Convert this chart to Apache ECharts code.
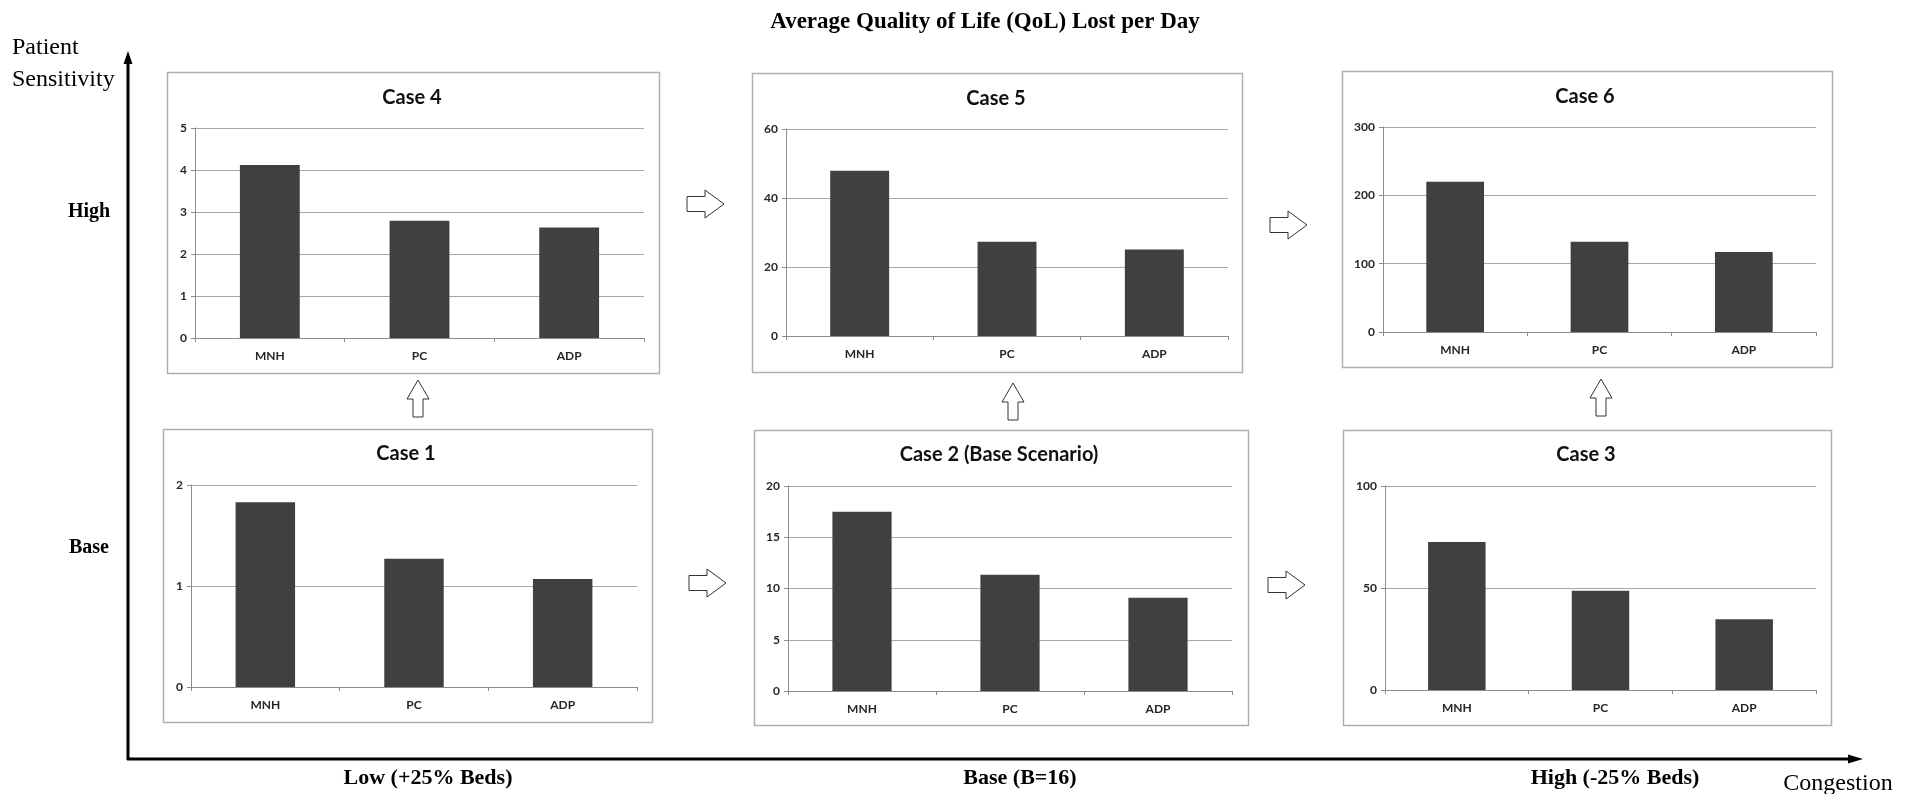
<!DOCTYPE html>
<html>
<head>
<meta charset="utf-8">
<title>Average Quality of Life (QoL) Lost per Day</title>
<script src="https://cdn.jsdelivr.net/npm/echarts@6/dist/echarts.min.js"></script>
<style>
  html, body { margin: 0; padding: 0; background: #ffffff; }
  #chart { width: 1913px; height: 794px; }
</style>
</head>
<body>
<div id="chart"></div>
<script>
// ---- data ----
const categories = ['MNH', 'PC', 'ADP'];

const caseNames = ['Case 1', 'Case 2 (Base Scenario)', 'Case 3', 'Case 4', 'Case 5', 'Case 6'];

const case1Values = [1.83, 1.27, 1.07];
const case2Values = [17.5, 11.35, 9.1];
const case3Values = [72.6, 48.7, 34.7];
const case4Values = [4.12, 2.79, 2.63];
const case5Values = [47.9, 27.3, 25.1];
const case6Values = [220, 132, 117];

const axisMax = [2, 20, 100, 5, 60, 300];
const axisStep = [1, 5, 50, 1, 20, 100];

const mainTitle = 'Average Quality of Life (QoL) Lost per Day';
const sensitivityLevels = ['High', 'Base'];
const congestionLevels = ['Low (+25% Beds)', 'Base (B=16)', 'High (-25% Beds)'];

// ---- layout of the six panels (frame box, plot area, title position) ----
const panels = [
  { box: [163, 429, 652, 722], plot: [191, 485, 446, 202], title: [406, 454] },   // Case 1
  { box: [754, 430, 1248, 725], plot: [788, 486, 444, 205], title: [999, 455] },  // Case 2
  { box: [1343, 430, 1831, 725], plot: [1385, 486, 431, 204], title: [1586, 455] }, // Case 3
  { box: [167, 72, 659, 373], plot: [195, 128, 449, 210], title: [412, 98] },     // Case 4
  { box: [752, 73, 1242, 372], plot: [786, 129, 442, 207], title: [996, 99] },    // Case 5
  { box: [1342, 71, 1832, 367], plot: [1383, 127, 433, 205], title: [1585, 97] }  // Case 6
];

const seriesValues = [case1Values, case2Values, case3Values, case4Values, case5Values, case6Values];

const SANS = 'Lato, "Open Sans", sans-serif';
const SERIF = '"Liberation Serif", "DejaVu Serif", serif';
const GRID_GRAY = '#a6a6a6';
const AXIS_GRAY = '#8c8c8c';

const grids = [], xAxes = [], yAxes = [], series = [], graphics = [];

panels.forEach((p, i) => {
  grids.push({ left: p.plot[0], top: p.plot[1], width: p.plot[2], height: p.plot[3], containLabel: false });
  xAxes.push({
    type: 'category',
    gridIndex: i,
    data: categories,
    axisLine: { show: true, lineStyle: { color: AXIS_GRAY, width: 1 } },
    axisTick: { show: true, alignWithLabel: false, length: 4, lineStyle: { color: AXIS_GRAY } },
    axisLabel: { color: '#262626', fontFamily: SANS, fontWeight: 'bold', fontSize: 12, margin: 12 },
    splitLine: { show: false }
  });
  yAxes.push({
    type: 'value',
    gridIndex: i,
    min: 0,
    max: axisMax[i],
    interval: axisStep[i],
    axisLine: { show: true, lineStyle: { color: AXIS_GRAY, width: 1 } },
    axisTick: { show: true, length: 4, lineStyle: { color: AXIS_GRAY } },
    axisLabel: { color: '#262626', fontFamily: SANS, fontWeight: 'bold', fontSize: 12, margin: 8 },
    splitLine: { show: true, lineStyle: { color: GRID_GRAY, width: 1 } }
  });
  series.push({
    type: 'bar',
    name: caseNames[i],
    xAxisIndex: i,
    yAxisIndex: i,
    data: seriesValues[i],
    barWidth: '40%',
    itemStyle: { color: '#404040' },
    silent: true
  });

  // panel frame
  graphics.push({
    type: 'rect',
    z: -1,
    shape: { x: p.box[0] + 0.5, y: p.box[1] + 0.5, width: p.box[2] - p.box[0], height: p.box[3] - p.box[1] },
    style: { fill: '#ffffff', stroke: '#b0b0b0', lineWidth: 1.5 }
  });
  // panel title
  graphics.push({
    type: 'text',
    x: p.title[0],
    y: p.title[1],
    style: {
      text: caseNames[i],
      fontFamily: SANS,
      fontWeight: 'bold',
      fontSize: 20,
      fill: '#111111',
      align: 'center',
      verticalAlign: 'middle'
    }
  });
});

// hollow block arrows between panels
function rightArrow(x0, cy) {
  return {
    type: 'polygon',
    shape: {
      points: [
        [x0, cy - 7.5], [x0 + 18, cy - 7.5], [x0 + 18, cy - 14], [x0 + 37, cy],
        [x0 + 18, cy + 14], [x0 + 18, cy + 7.5], [x0, cy + 7.5]
      ]
    },
    style: { fill: '#ffffff', stroke: '#333333', lineWidth: 1 }
  };
}
function upArrow(cx, y0) {
  return {
    type: 'polygon',
    shape: {
      points: [
        [cx, y0], [cx + 11, y0 + 19], [cx + 5, y0 + 19], [cx + 5, y0 + 37],
        [cx - 5, y0 + 37], [cx - 5, y0 + 19], [cx - 11, y0 + 19]
      ]
    },
    style: { fill: '#ffffff', stroke: '#333333', lineWidth: 1 }
  };
}
graphics.push(rightArrow(687, 204));
graphics.push(rightArrow(1270, 225));
graphics.push(rightArrow(689, 583));
graphics.push(rightArrow(1268, 585));
graphics.push(upArrow(418, 380));
graphics.push(upArrow(1013, 383));
graphics.push(upArrow(1601, 379));

// outer scenario axes: patient sensitivity (vertical) and congestion (horizontal)
graphics.push({
  type: 'line',
  shape: { x1: 128, y1: 760, x2: 128, y2: 62 },
  style: { stroke: '#000000', lineWidth: 3 }
});
graphics.push({
  type: 'polygon',
  shape: { points: [[128, 51], [132.5, 64], [123.5, 64]] },
  style: { fill: '#000000' }
});
graphics.push({
  type: 'line',
  shape: { x1: 127, y1: 759, x2: 1850, y2: 759 },
  style: { stroke: '#000000', lineWidth: 3 }
});
graphics.push({
  type: 'polygon',
  shape: { points: [[1863, 759], [1848, 754.5], [1848, 763.5]] },
  style: { fill: '#000000' }
});

function serifText(text, x, y, opts) {
  return {
    type: 'text',
    x: x,
    y: y,
    style: Object.assign({
      text: text,
      fontFamily: SERIF,
      fontSize: 20,
      fontWeight: 'bold',
      fill: '#000000',
      align: 'center',
      verticalAlign: 'middle'
    }, opts || {})
  };
}

graphics.push(serifText(mainTitle, 985, 22, { fontSize: 23 }));
graphics.push(serifText('Patient', 12, 48, { fontWeight: 'normal', fontSize: 24, align: 'left' }));
graphics.push(serifText('Sensitivity', 12, 80, { fontWeight: 'normal', fontSize: 24, align: 'left' }));
graphics.push(serifText(sensitivityLevels[0], 89, 212));
graphics.push(serifText(sensitivityLevels[1], 89, 548));
graphics.push(serifText(congestionLevels[0], 428, 778, { fontSize: 22 }));
graphics.push(serifText(congestionLevels[1], 1020, 778, { fontSize: 22 }));
graphics.push(serifText(congestionLevels[2], 1615, 778, { fontSize: 22 }));
graphics.push(serifText('Congestion', 1838, 784, { fontWeight: 'normal', fontSize: 24 }));

const chart = echarts.init(document.getElementById('chart'), null, { renderer: 'canvas' });
chart.setOption({
  backgroundColor: '#ffffff',
  animation: false,
  grid: grids,
  xAxis: xAxes,
  yAxis: yAxes,
  series: series,
  graphic: { elements: graphics }
});
</script>
</body>
</html>
